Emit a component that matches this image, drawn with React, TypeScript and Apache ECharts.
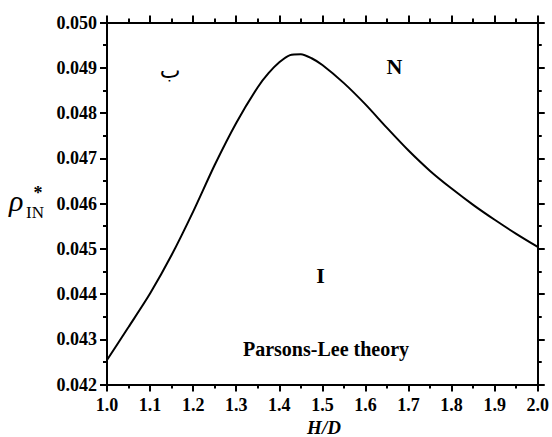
import React, { useEffect, useRef } from "react";
import * as echarts from "echarts";

const hdValues = [1.0, 1.05, 1.1, 1.15, 1.2, 1.25, 1.3, 1.35, 1.375, 1.4, 1.425, 1.45, 1.475, 1.5, 1.55, 1.6, 1.65, 1.7, 1.75, 1.8, 1.85, 1.9, 1.95, 2.0];
const rhoValues = [0.04254, 0.04327, 0.04401, 0.04486, 0.04582, 0.04685, 0.04778, 0.04857, 0.04888, 0.04912, 0.04928, 0.0493, 0.04921, 0.04906, 0.04866, 0.04819, 0.04767, 0.04717, 0.04672, 0.04633, 0.04597, 0.04564, 0.04533, 0.04504];

const regionLabels = ["ب", "N", "I"];
const theoryLabel = "Parsons-Lee theory";
const xAxisName = "H/D";

const SERIF = "'Liberation Serif', 'Times New Roman', 'DejaVu Serif', serif";

export default function App() {
  const ref = useRef<HTMLDivElement>(null);
  useEffect(() => {
    if (!ref.current) return;
    const chart = echarts.init(ref.current, undefined, { renderer: "svg" });
    const axisCommon = {
      axisLine: { show: true, onZero: false, lineStyle: { color: "#000", width: 2 } },
      axisTick: { show: true, inside: false, length: 7, lineStyle: { color: "#000", width: 2 } },
      minorTick: { show: true, splitNumber: 2, length: 4, lineStyle: { color: "#000", width: 2 } },
      splitLine: { show: false },
      minorSplitLine: { show: false },
    };
    const labelStyle = {
      fontFamily: SERIF,
      fontWeight: "bold" as const,
      fontSize: 18,
      color: "#000",
    };
    chart.setOption({
      animation: false,
      backgroundColor: "#fff",
      grid: { left: 107, right: 12, top: 22.5, bottom: 52.5, containLabel: false },
      xAxis: [
        {
          type: "value",
          min: 1,
          max: 2,
          interval: 0.1,
          position: "bottom",
          ...axisCommon,
          axisLabel: { ...labelStyle, margin: 11, formatter: (v: number) => v.toFixed(1) },
        },
        {
          type: "value",
          min: 1,
          max: 2,
          interval: 0.1,
          position: "top",
          ...axisCommon,
          axisLabel: { show: false },
        },
      ],
      yAxis: [
        {
          type: "value",
          min: 0.042,
          max: 0.05,
          interval: 0.001,
          position: "left",
          ...axisCommon,
          axisLabel: { ...labelStyle, margin: 10, formatter: (v: number) => v.toFixed(3) },
        },
        {
          type: "value",
          min: 0.042,
          max: 0.05,
          interval: 0.001,
          position: "right",
          ...axisCommon,
          axisLabel: { show: false },
        },
      ],
      series: [
        {
          type: "line",
          xAxisIndex: 0,
          yAxisIndex: 0,
          data: hdValues.map((x, i) => [x, rhoValues[i]]),
          smooth: 0.25,
          showSymbol: false,
          symbol: "none",
          lineStyle: { color: "#000", width: 2 },
        },
      ],
      graphic: [
        {
          type: "text",
          x: 170,
          y: 70,
          style: { text: regionLabels[0], fontFamily: "'DejaVu Serif', 'DejaVu Sans', serif", fontSize: 22, fill: "#000", align: "center", verticalAlign: "middle" },
        },
        {
          type: "text",
          x: 394.5,
          y: 66.5,
          style: { text: regionLabels[1], fontFamily: SERIF, fontWeight: "bold", fontSize: 22, fill: "#000", align: "center", verticalAlign: "middle" },
        },
        {
          type: "text",
          x: 320.5,
          y: 275.5,
          style: { text: regionLabels[2], fontFamily: SERIF, fontWeight: "bold", fontSize: 22, fill: "#000", align: "center", verticalAlign: "middle" },
        },
        {
          type: "text",
          x: 326,
          y: 348.5,
          style: { text: theoryLabel, fontFamily: SERIF, fontWeight: "bold", fontSize: 20, fill: "#000", align: "center", verticalAlign: "middle" },
        },
        {
          type: "text",
          x: 324,
          y: 427,
          style: { text: xAxisName, fontFamily: SERIF, fontWeight: "bold", fontStyle: "italic", fontSize: 19, fill: "#000", align: "center", verticalAlign: "middle" },
        },
        {
          type: "text",
          x: 9,
          y: 200,
          style: { text: "ρ", fontFamily: SERIF, fontStyle: "italic", fontSize: 30, fill: "#000", align: "left", verticalAlign: "middle" },
        },
        {
          type: "text",
          x: 38,
          y: 193,
          style: { text: "*", fontFamily: SERIF, fontWeight: "bold", fontSize: 18, fill: "#000", align: "center", verticalAlign: "middle" },
        },
        {
          type: "text",
          x: 26,
          y: 212.5,
          style: { text: "IN", fontFamily: SERIF, fontSize: 17, fill: "#000", align: "left", verticalAlign: "middle" },
        },
      ],
    });
    return () => chart.dispose();
  }, []);
  return (
    <div
      ref={ref}
      style={{ position: "fixed", left: 0, top: 0, width: 552, height: 437, background: "#fff" }}
    />
  );
}
